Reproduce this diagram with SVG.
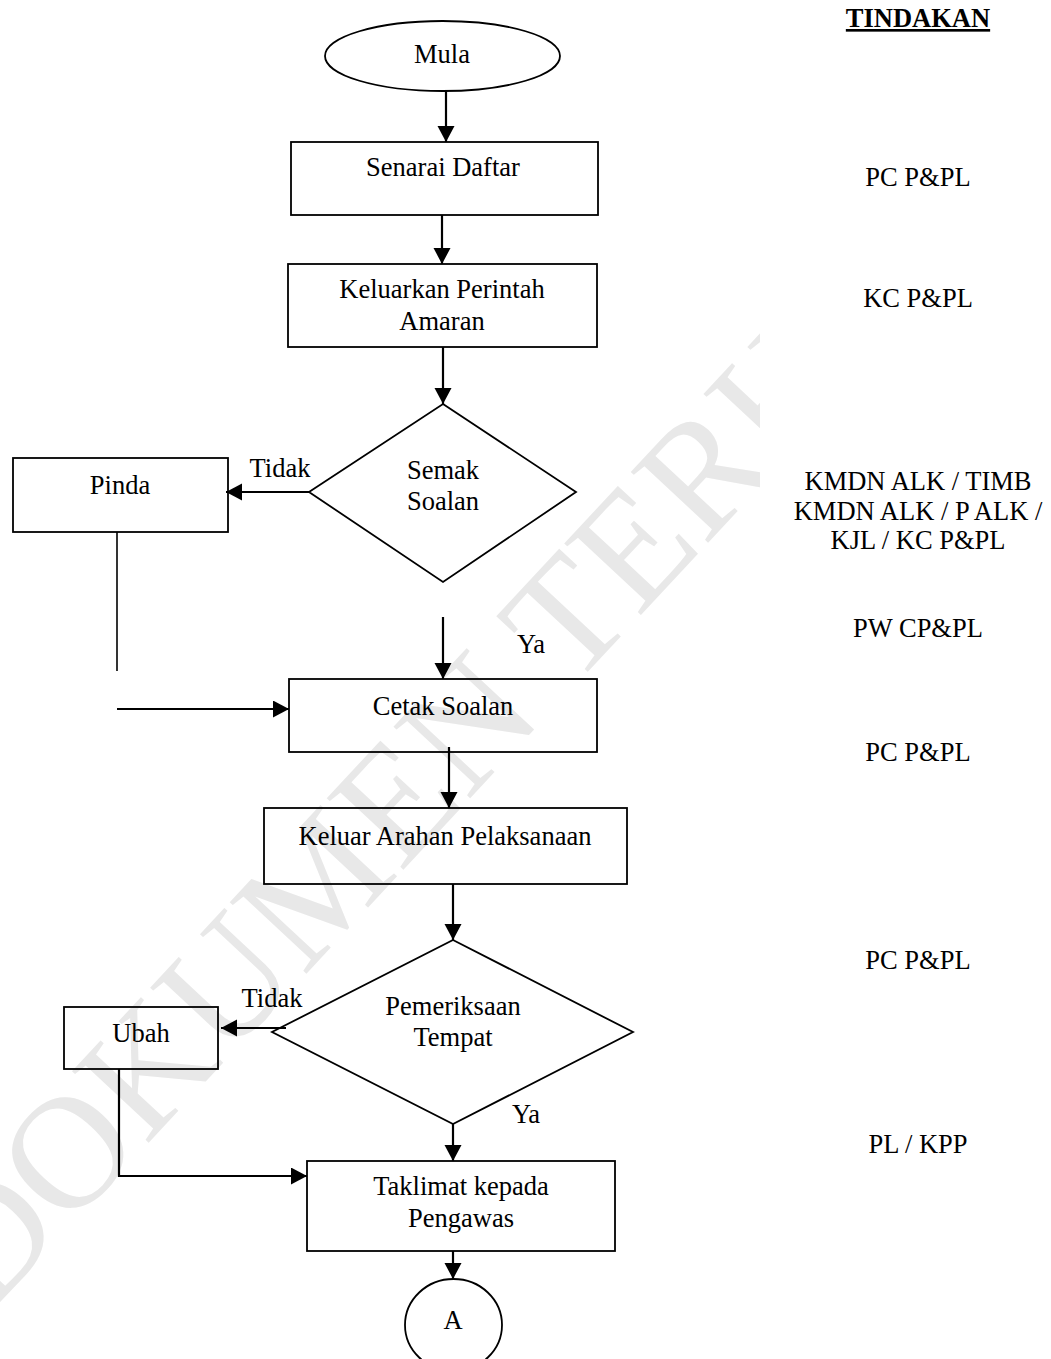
<svg xmlns="http://www.w3.org/2000/svg" width="1051" height="1359" viewBox="0 0 1051 1359">
<style>
  text { font-family: "Liberation Serif", "Times New Roman", serif; font-size: 26.5px; fill: #000; text-anchor: middle; }
  .shape { fill: none; stroke: #000; stroke-width: 1.8; }
  .conn { fill: none; stroke: #000; stroke-width: 2.2; }
  .thin { fill: none; stroke: #000; stroke-width: 1.6; }
  .head { font-weight: bold; text-decoration: underline; }
  .wm { font-size: 160px; fill: #e8e8e8; text-anchor: start; }
</style>
<defs>
  <marker id="arr" markerUnits="userSpaceOnUse" markerWidth="18" markerHeight="18" refX="16" refY="8.5" orient="auto">
    <path d="M0,0 L16,8.5 L0,17 z" fill="#000"/>
  </marker>
  <clipPath id="wmclip"><rect x="0" y="0" width="760" height="1359"/></clipPath>
</defs>
<rect x="0" y="0" width="1051" height="1359" fill="#fff"/>
<g id="watermark" clip-path="url(#wmclip)">
  <text class="wm" x="-12" y="1315" transform="rotate(-47 -12 1315)">DOKUMEN TERHAD</text>
</g>
<g id="connectors">
  <path class="conn" d="M446,91 V142" marker-end="url(#arr)"/>
  <path class="conn" d="M442,215 V264" marker-end="url(#arr)"/>
  <path class="conn" d="M443,347 V404" marker-end="url(#arr)"/>
  <path class="conn" d="M309,492 H226" marker-end="url(#arr)"/>
  <path class="conn" d="M443,617 V679" marker-end="url(#arr)"/>
  <path class="thin" d="M117,532 V671"/>
  <path class="conn" d="M117,709 H289" marker-end="url(#arr)"/>
  <path class="conn" d="M449,747 V808" marker-end="url(#arr)"/>
  <path class="conn" d="M453,884 V940" marker-end="url(#arr)"/>
  <path class="conn" d="M286,1028 H221" marker-end="url(#arr)"/>
  <path class="conn" d="M453,1124 V1161" marker-end="url(#arr)"/>
  <path class="conn" d="M119,1069 V1176 H307" marker-end="url(#arr)"/>
  <path class="conn" d="M453,1251 V1279" marker-end="url(#arr)"/>
  <text x="280" y="477">Tidak</text>
  <text x="531" y="653">Ya</text>
  <text x="272" y="1007">Tidak</text>
  <text x="526" y="1123">Ya</text>
</g>
<g id="mula">
  <ellipse class="shape" cx="442.5" cy="56" rx="117.5" ry="35"/>
  <text x="442" y="63">Mula</text>
</g>
<g id="senarai-daftar">
  <rect class="shape" x="291" y="142" width="307" height="73"/>
  <text x="443" y="176">Senarai Daftar</text>
</g>
<g id="keluarkan-perintah">
  <rect class="shape" x="288" y="264" width="309" height="83"/>
  <text x="442" y="298">Keluarkan Perintah</text>
  <text x="442" y="330">Amaran</text>
</g>
<g id="semak-soalan">
  <polygon class="shape" points="443,404 576,492 443,582 309,492"/>
  <text x="443" y="479">Semak</text>
  <text x="443" y="510">Soalan</text>
</g>
<g id="pinda">
  <rect class="shape" x="13" y="458" width="215" height="74"/>
  <text x="120" y="494">Pinda</text>
</g>
<g id="cetak-soalan">
  <rect class="shape" x="289" y="679" width="308" height="73"/>
  <text x="443" y="715">Cetak Soalan</text>
</g>
<g id="keluar-arahan">
  <rect class="shape" x="264" y="808" width="363" height="76"/>
  <text x="445" y="845">Keluar Arahan Pelaksanaan</text>
</g>
<g id="pemeriksaan-tempat">
  <polygon class="shape" points="453,940 633,1032 453,1124 272,1032"/>
  <text x="453" y="1015">Pemeriksaan</text>
  <text x="453" y="1046">Tempat</text>
</g>
<g id="ubah">
  <rect class="shape" x="64" y="1007" width="154" height="62"/>
  <text x="141" y="1042">Ubah</text>
</g>
<g id="taklimat">
  <rect class="shape" x="307" y="1161" width="308" height="90"/>
  <text x="461" y="1195">Taklimat kepada</text>
  <text x="461" y="1227">Pengawas</text>
</g>
<g id="connector-a">
  <ellipse class="shape" cx="453.5" cy="1325" rx="48.5" ry="46"/>
  <text x="453" y="1329">A</text>
</g>
<g id="tindakan">
  <text class="head" x="918" y="27">TINDAKAN</text>
  <text x="918" y="186">PC P&amp;PL</text>
  <text x="918" y="307">KC P&amp;PL</text>
  <text x="918" y="490">KMDN ALK / TIMB</text>
  <text x="918" y="520">KMDN ALK / P ALK /</text>
  <text x="918" y="549">KJL / KC P&amp;PL</text>
  <text x="918" y="637">PW CP&amp;PL</text>
  <text x="918" y="761">PC P&amp;PL</text>
  <text x="918" y="969">PC P&amp;PL</text>
  <text x="918" y="1153">PL / KPP</text>
</g>
</svg>
